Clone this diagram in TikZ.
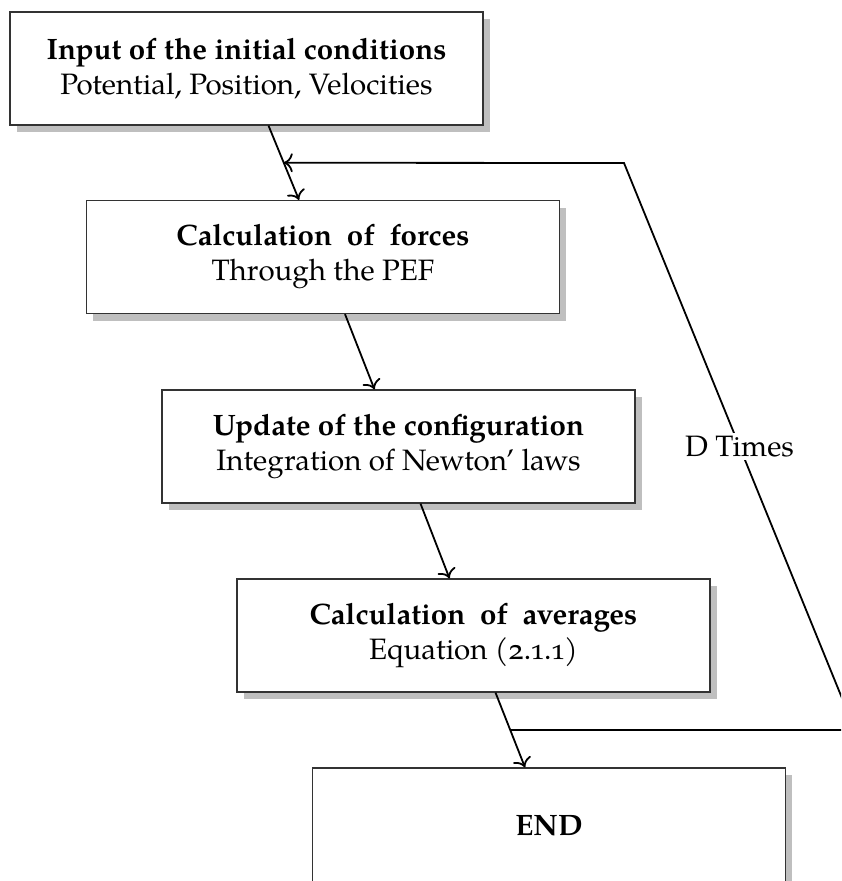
\documentclass[tikz,border=0pt]{standalone}
\usepackage{fontspec}
\IfFontExistsTF{TeX Gyre Pagella}{\setmainfont{TeX Gyre Pagella}\newcommand\osnum[1]{{\addfontfeatures{Numbers=OldStyle}#1}}}{\newcommand\osnum[1]{\oldstylenums{#1}}}
\usetikzlibrary{shadows,calc,arrows.meta}
\tikzset{
  stepbox/.style={draw=black!80, line width=1.2pt, fill=white, rectangle, inner sep=0pt,
    minimum width=473pt, minimum height=113pt, align=center,
    drop shadow={shadow xshift=6.5pt, shadow yshift=-7pt, opacity=1, fill=black!25, draw=none}},
  conn/.style={line width=1.8pt, -{To[length=9pt,width=19pt]}},
}
\begin{document}
\begin{tikzpicture}[x=1pt,y=-1pt, font=\fontsize{29.5}{35}\selectfont]
\useasboundingbox (0,0) rectangle (841,881);
\clip (0,0) rectangle (841,881);
\node[stepbox] (b1) at (246.5,68.5) {\textbf{Input of the initial conditions}\\Potential, Position, Velocities};
\node[stepbox] (b2) at (323,257) {\textbf{Calculation\ \ of\ \ forces}\\Through the PEF};
\node[stepbox] (b3) at (398.5,446.5) {\textbf{Update of the configuration}\\Integration of Newton' laws};
\node[stepbox] (b4) at (473.5,635.5) {\textbf{Calculation\ \ of\ \ averages}\\Equation (\osnum{2.1.1})};
\node[stepbox, minimum height=115pt] (b5) at (549,825.5) {\textbf{END}};

\coordinate (a1s) at ($(b1.south)+(22,0)$);
\coordinate (a1e) at ($(b2.north)+(-24,0)$);
\coordinate (a2s) at ($(b2.south)+(22,0)$);
\coordinate (a2e) at ($(b3.north)+(-24,0)$);
\coordinate (a3s) at ($(b3.south)+(22,0)$);
\coordinate (a3e) at ($(b4.north)+(-24,0)$);
\coordinate (a4s) at ($(b4.south)+(22,0)$);
\coordinate (a4e) at ($(b5.north)+(-24,0)$);
\draw[conn] (a1s) -- (a1e);
\draw[conn] (a2s) -- (a2e);
\draw[conn] (a3s) -- (a3e);
\draw[conn] (a4s) -- (a4e);

\coordinate (fb0) at ($(a4s)!0.5!(a4e)$);
\coordinate (fb1) at (855,730);
\coordinate (fb2) at (624,163);
\coordinate (fb3) at ($(a1s)!0.5!(a1e)$);
\draw[conn] (fb0) -- (fb1) -- node[fill=white, inner sep=3pt] (lbl) {D Times} (fb2) -- (fb3);
\end{tikzpicture}
\end{document}
